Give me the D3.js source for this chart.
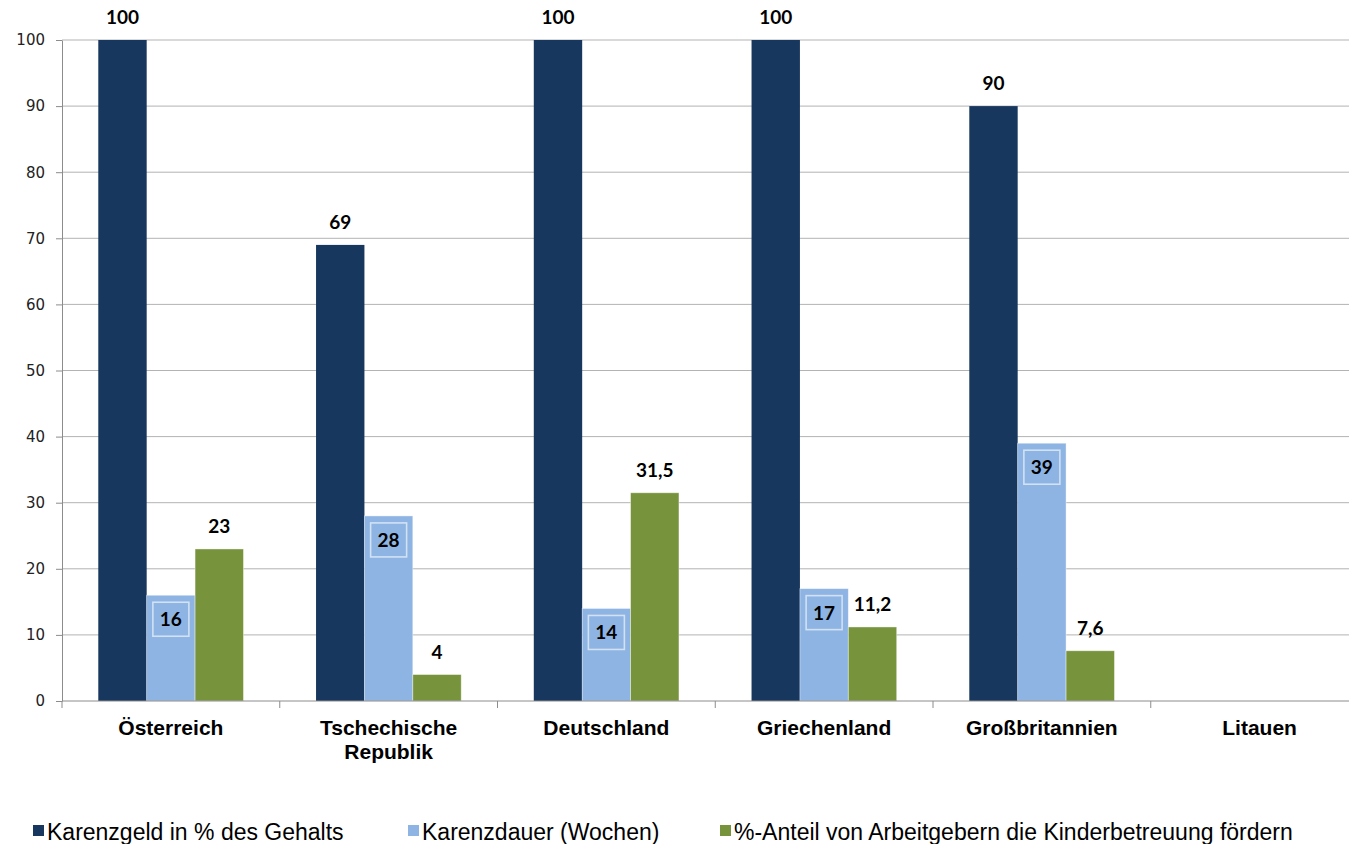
<!DOCTYPE html>
<html><head><meta charset="utf-8">
<script src="https://cdn.jsdelivr.net/npm/d3@7"></script>
<style>body{margin:0;background:#fff;}svg{display:block;}</style>
</head><body><svg id="c" width="1349" height="844"></svg>
<script>
const categories = ["Österreich", "Tschechische Republik", "Deutschland", "Griechenland", "Großbritannien", "Litauen"];
const seriesNames = ["Karenzgeld in % des Gehalts", "Karenzdauer (Wochen)", "%-Anteil von Arbeitgebern die Kinderbetreuung fördern"];
const karenzgeld = [100, 69, 100, 100, 90, null];
const karenzdauer = [16, 28, 14, 17, 39, null];
const anteil = [23, 4, 31.5, 11.2, 7.6, null];
const yTicks = [0, 10, 20, 30, 40, 50, 60, 70, 80, 90, 100];
const colors = ["#17375E", "#8EB4E3", "#77933C"];

(function(){
const svg = d3.select("#c");
const mLeft = 62, mTop = 40, mBottom = 701, mRight = 1368.5;
const y = d3.scaleLinear().domain([0, 100]).range([mBottom, mTop]);
const x0 = d3.scaleBand().domain(categories).range([mLeft, mRight]).padding(0);
const x1 = d3.scaleBand().domain([0,1,2]).range([0, x0.bandwidth()]).paddingInner(0).paddingOuter(0.75);
const allSeries = [karenzgeld, karenzdauer, anteil];
const fmt = v => String(v).replace(".", ",");

// gridlines
svg.append("g").selectAll("line").data(yTicks.filter(d => d > 0)).join("line")
  .attr("x1", mLeft).attr("x2", mRight).attr("y1", d => y(d)).attr("y2", d => y(d))
  .attr("stroke", "#b3b3b3").attr("stroke-width", 1);

// bars
categories.forEach((c, i) => {
  allSeries.forEach((s, k) => {
    const v = s[i];
    if (v == null) return;
    svg.append("rect").attr("x", x0(c) + x1(k)).attr("y", y(v))
      .attr("width", x1.bandwidth()).attr("height", y(0) - y(v))
      .attr("fill", colors[k])
      .attr("stroke", k === 0 ? "none" : "#ffffff").attr("stroke-opacity", 0.5).attr("stroke-width", 0.8);
  });
});

// y axis
const yAxis = d3.axisLeft(y).tickValues(yTicks).tickSize(6).tickSizeOuter(0).tickPadding(11);
const ga = svg.append("g").attr("transform", `translate(${mLeft},0)`).call(yAxis);
ga.select(".domain").attr("stroke", "#8c8c8c");
ga.selectAll(".tick line").attr("stroke", "#8c8c8c");
ga.selectAll(".tick text").attr("font-family", "'DejaVu Sans', sans-serif").attr("font-size", 15).attr("fill", "#222");

// x axis baseline and ticks at boundaries
svg.append("line").attr("x1", mLeft).attr("x2", mRight).attr("y1", mBottom).attr("y2", mBottom).attr("stroke", "#8c8c8c");
svg.append("g").selectAll("line").data(categories.map(c => x0(c)).concat([mRight])).join("line")
  .attr("x1", d => d).attr("x2", d => d).attr("y1", mBottom).attr("y2", mBottom + 7).attr("stroke", "#8c8c8c");

// category labels
categories.forEach(c => {
  const t = svg.append("text").attr("x", x0(c) + x0.bandwidth()/2).attr("y", 735)
    .attr("text-anchor", "middle").attr("font-family", "'Liberation Sans', Arial, sans-serif")
    .attr("font-weight", "bold").attr("font-size", 21).attr("fill", "#000");
  const parts = c === "Tschechische Republik" ? ["Tschechische", "Republik"] : [c];
  parts.forEach((p, j) => t.append("tspan").attr("x", x0(c) + x0.bandwidth()/2).attr("dy", j === 0 ? 0 : 24).text(p));
});

// value labels
const lblFont = "Lato, 'Open Sans', sans-serif";
categories.forEach((c, i) => {
  allSeries.forEach((s, k) => {
    const v = s[i];
    if (v == null) return;
    const cx = x0(c) + x1(k) + x1.bandwidth()/2;
    if (k === 1) {
      const cy = y(v) + 24;
      const txt = fmt(v);
      const w = txt.length * 10 + 16;
      svg.append("rect").attr("x", cx - w/2).attr("y", cy - 17).attr("width", w).attr("height", 34)
        .attr("fill", "none").attr("stroke", "#ffffff").attr("stroke-opacity", 0.6).attr("stroke-width", 1.6);
      svg.append("text").attr("x", cx).attr("y", cy + 7).attr("text-anchor", "middle")
        .attr("font-family", lblFont).attr("font-weight", "bold").attr("font-size", 19).attr("fill", "#000").text(txt);
    } else {
      svg.append("text").attr("x", cx).attr("y", y(v) - 16).attr("text-anchor", "middle")
        .attr("font-family", lblFont).attr("font-weight", "bold").attr("font-size", 19).attr("fill", "#000").text(fmt(v));
    }
  });
});

// legend
const legX = [33, 408, 720];
seriesNames.forEach((n, k) => {
  svg.append("rect").attr("x", legX[k]).attr("y", 825).attr("width", 11).attr("height", 11).attr("fill", colors[k]);
  svg.append("text").attr("x", legX[k] + 14).attr("y", 840).attr("font-family", "'Liberation Sans', Arial, sans-serif")
    .attr("font-size", 23).attr("fill", "#000").text(n);
});
})();
</script></body></html>
